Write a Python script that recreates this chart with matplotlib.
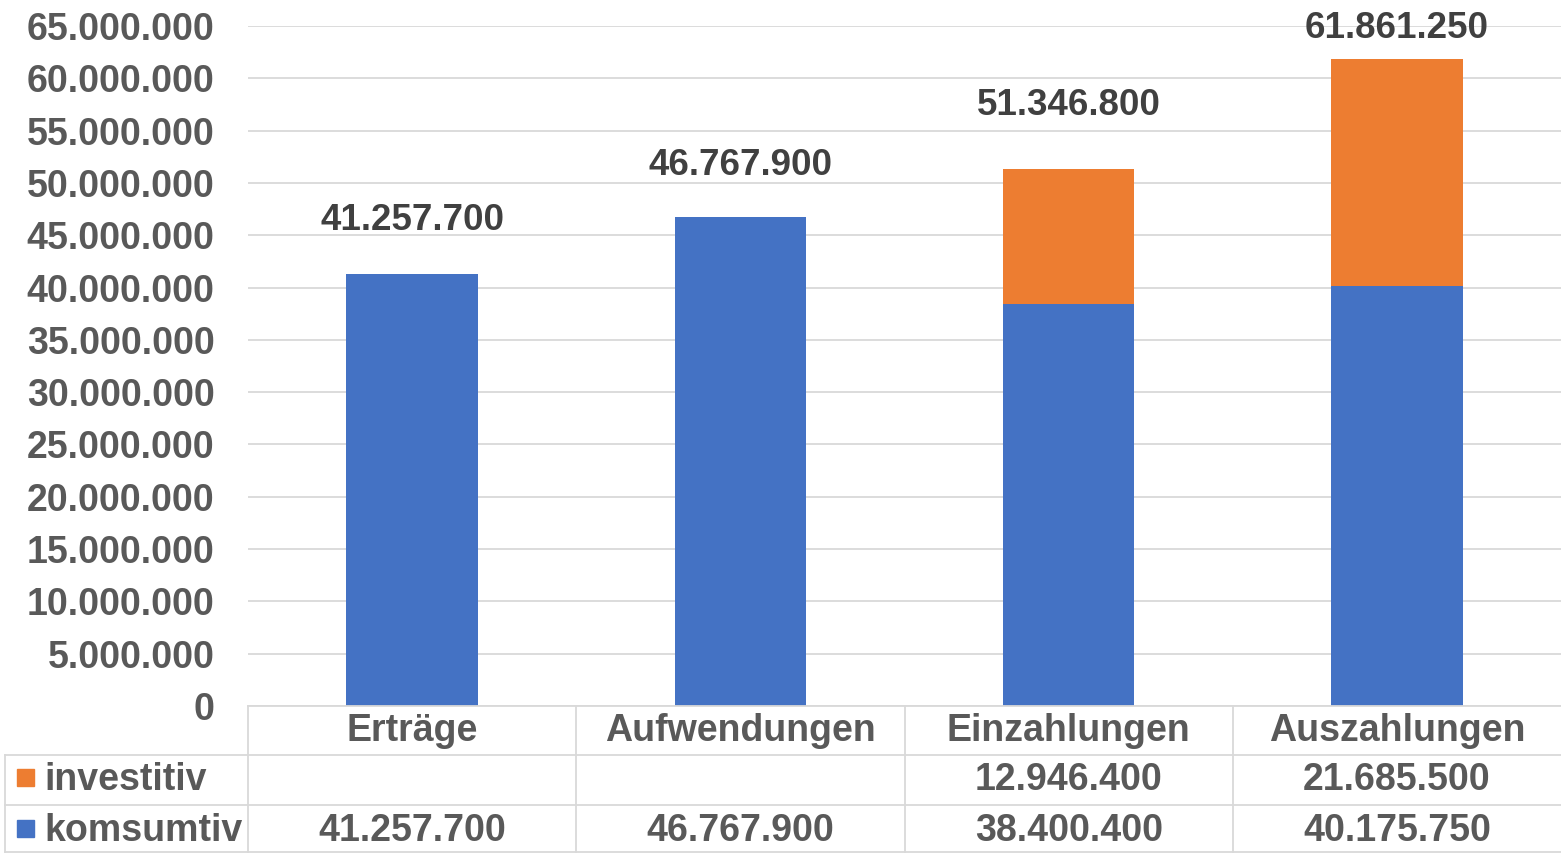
import matplotlib
matplotlib.use("Agg")
import matplotlib.pyplot as plt
from matplotlib.lines import Line2D
from matplotlib.patches import Rectangle
from matplotlib.transforms import blended_transform_factory

# ---- data ----
categories = ["Erträge", "Aufwendungen", "Einzahlungen", "Auszahlungen"]
komsumtiv = [41257700, 46767900, 38400400, 40175750]
investitiv = [0, 0, 12946400, 21685500]
investitiv_shown = [False, False, True, True]
series_names = ["investitiv", "komsumtiv"]
yticks = list(range(0, 65000001, 5000000))
# pixel offset of total labels above bar tops
label_offsets_px = [54, 51, 63, 30]

BLUE = "#4472C4"
ORANGE = "#ED7D31"
TICK = "#595959"
LABEL = "#404040"
GRID = "#D9D9D9"

def fmt(v):
    return f"{v:,.0f}".replace(",", ".")

plt.rcParams['font.family'] = ['Liberation Sans', 'DejaVu Sans']
plt.rcParams['font.weight'] = 'bold'

W, H = 1561, 855
fig = plt.figure(figsize=(W / 100, H / 100), dpi=100)

def fx(px):
    return px / W

def fy(py):
    return 1 - py / H

ax = fig.add_axes([fx(248), fy(706), fx(1561) - fx(248), fy(26) - fy(706)])

x = list(range(len(categories)))
ax.bar(x, komsumtiv, width=0.4, color=BLUE, zorder=3)
ax.bar(x, investitiv, width=0.4, bottom=komsumtiv, color=ORANGE, zorder=3)

ax.set_xlim(-0.5, len(categories) - 0.5)
ax.set_ylim(0, 65000000)
ax.set_yticks(yticks)
ax.set_yticklabels([fmt(v) for v in yticks], fontsize=27, color=TICK, fontweight='bold')
ax.tick_params(axis='y', length=0, pad=24)
ax.set_xticks([])
for s in ax.spines.values():
    s.set_visible(False)
ax.grid(axis='y', color=GRID, linewidth=1.3, zorder=0)
ax.set_axisbelow(True)

totals = [k + i for k, i in zip(komsumtiv, investitiv)]
for xi, t, off in zip(x, totals, label_offsets_px):
    ax.annotate(fmt(t), (xi, t), xytext=(0, off), textcoords='offset pixels',
                ha='center', va='center', fontsize=26.5, color=LABEL,
                fontweight='bold', annotation_clip=False)

# ---- data table ----
tr = blended_transform_factory(ax.transData, fig.transFigure)
lw = 1.3
def hline(py, x0px):
    fig.add_artist(Line2D([fx(x0px), 1], [fy(py), fy(py)], color=GRID, lw=lw,
                          transform=fig.transFigure))

hline(706, 248)
hline(755, 5)
hline(805, 5)
hline(852, 5)
fig.add_artist(Line2D([fx(5), fx(5)], [fy(755), fy(852)], color=GRID, lw=lw,
                      transform=fig.transFigure))
for b in range(len(categories)):
    xb = b - 0.5
    fig.add_artist(Line2D([xb, xb], [fy(706), fy(852)], color=GRID, lw=lw,
                          transform=tr))

row_y = [731, 780, 831]
TFS = 27
for xi, c in enumerate(categories):
    fig.text(xi, fy(row_y[0]), c, transform=tr, ha='center', va='center',
             fontsize=TFS, color=TICK, fontweight='bold')
for xi in x:
    if investitiv_shown[xi]:
        fig.text(xi, fy(row_y[1]), fmt(investitiv[xi]), transform=tr, ha='center',
                 va='center', fontsize=TFS, color=TICK, fontweight='bold')
    fig.text(xi, fy(row_y[2]), fmt(komsumtiv[xi]), transform=tr, ha='center',
             va='center', fontsize=TFS, color=TICK, fontweight='bold')

for name, col, ry in zip(series_names, [ORANGE, BLUE], [778, 829]):
    fig.add_artist(Rectangle((fx(17), fy(ry + 8)), fx(17), fy(ry - 9) - fy(ry + 8),
                             color=col, transform=fig.transFigure))
    fig.text(fx(44), fy(ry + 2), name, ha='left', va='center', fontsize=TFS,
             color=TICK, fontweight='bold')

fig.savefig("out.png", dpi=100)
